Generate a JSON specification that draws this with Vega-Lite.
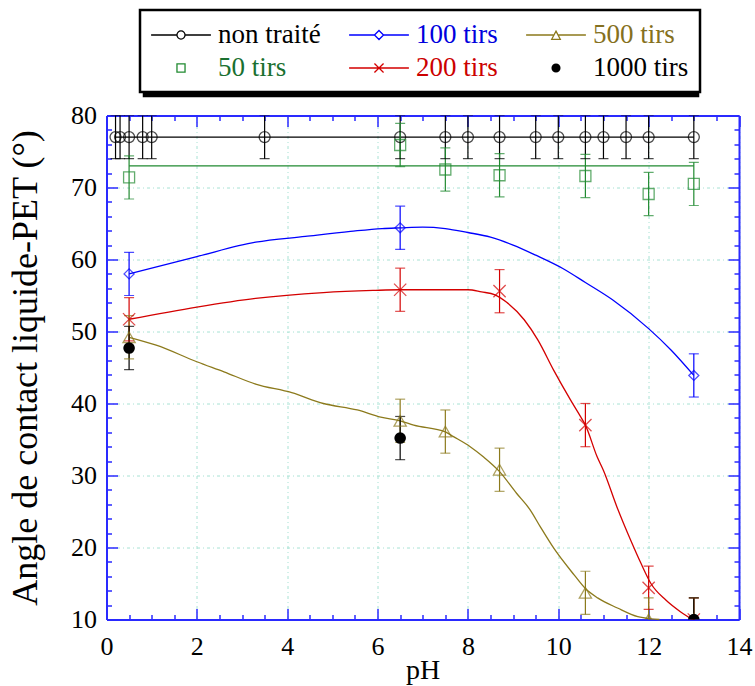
{
  "$schema": "https://vega.github.io/schema/vega-lite/v6.json",
  "width": 632.5,
  "height": 504,
  "autosize": {"type": "none"},
  "padding": {"left": 106.5, "top": 115.5, "right": 16, "bottom": 66.5},
  "background": "white",
  "config": {"view": {"stroke": null}, "legend": {"labelFont": "Liberation Serif", "labelFontSize": 27}},
  "datasets": {
    "pts": [
      {"series": "non traité", "pH": 0.2, "angle": 77, "lo": 74, "hi": 80},
      {"series": "non traité", "pH": 0.3, "angle": 77, "lo": 74, "hi": 80},
      {"series": "non traité", "pH": 0.5, "angle": 77, "lo": 74, "hi": 80},
      {"series": "non traité", "pH": 0.8, "angle": 77, "lo": 74, "hi": 80},
      {"series": "non traité", "pH": 1.0, "angle": 77, "lo": 74, "hi": 80},
      {"series": "non traité", "pH": 3.5, "angle": 77, "lo": 74, "hi": 80},
      {"series": "non traité", "pH": 6.5, "angle": 77, "lo": 74, "hi": 80},
      {"series": "non traité", "pH": 7.5, "angle": 77, "lo": 74, "hi": 80},
      {"series": "non traité", "pH": 8.0, "angle": 77, "lo": 74, "hi": 80},
      {"series": "non traité", "pH": 8.7, "angle": 77, "lo": 74, "hi": 80},
      {"series": "non traité", "pH": 9.5, "angle": 77, "lo": 74, "hi": 80},
      {"series": "non traité", "pH": 10.0, "angle": 77, "lo": 74, "hi": 80},
      {"series": "non traité", "pH": 10.6, "angle": 77, "lo": 74, "hi": 80},
      {"series": "non traité", "pH": 11.0, "angle": 77, "lo": 74, "hi": 80},
      {"series": "non traité", "pH": 11.5, "angle": 77, "lo": 74, "hi": 80},
      {"series": "non traité", "pH": 12.0, "angle": 77, "lo": 74, "hi": 80},
      {"series": "non traité", "pH": 13.0, "angle": 77, "lo": 74, "hi": 80},
      {"series": "50 tirs", "pH": 0.5, "angle": 71.4, "lo": 68.4, "hi": 74.4},
      {"series": "50 tirs", "pH": 6.5, "angle": 75.9, "lo": 72.9, "hi": 78.9},
      {"series": "50 tirs", "pH": 7.5, "angle": 72.5, "lo": 69.5, "hi": 75.5},
      {"series": "50 tirs", "pH": 8.7, "angle": 71.7, "lo": 68.7, "hi": 74.7},
      {"series": "50 tirs", "pH": 10.6, "angle": 71.6, "lo": 68.6, "hi": 74.6},
      {"series": "50 tirs", "pH": 12.0, "angle": 69.1, "lo": 66.1, "hi": 72.1},
      {"series": "50 tirs", "pH": 13.0, "angle": 70.5, "lo": 67.5, "hi": 73.5},
      {"series": "100 tirs", "pH": 0.5, "angle": 58.0, "lo": 55.0, "hi": 61.0},
      {"series": "100 tirs", "pH": 6.5, "angle": 64.4, "lo": 61.4, "hi": 67.4},
      {"series": "100 tirs", "pH": 13.0, "angle": 43.9, "lo": 40.9, "hi": 46.9},
      {"series": "200 tirs", "pH": 0.5, "angle": 51.7, "lo": 48.7, "hi": 54.7},
      {"series": "200 tirs", "pH": 6.5, "angle": 55.8, "lo": 52.8, "hi": 58.8},
      {"series": "200 tirs", "pH": 8.7, "angle": 55.6, "lo": 52.6, "hi": 58.6},
      {"series": "200 tirs", "pH": 10.6, "angle": 37.0, "lo": 34.0, "hi": 40.0},
      {"series": "200 tirs", "pH": 12.0, "angle": 14.4, "lo": 11.4, "hi": 17.4},
      {"series": "200 tirs", "pH": 13.0, "angle": 10.0, "lo": 7.0, "hi": 13.0},
      {"series": "500 tirs", "pH": 0.5, "angle": 49.2, "lo": 46.2, "hi": 52.2},
      {"series": "500 tirs", "pH": 6.5, "angle": 37.6, "lo": 34.6, "hi": 40.6},
      {"series": "500 tirs", "pH": 7.5, "angle": 36.1, "lo": 33.1, "hi": 39.1},
      {"series": "500 tirs", "pH": 8.7, "angle": 30.8, "lo": 27.8, "hi": 33.8},
      {"series": "500 tirs", "pH": 10.6, "angle": 13.7, "lo": 10.7, "hi": 16.7},
      {"series": "500 tirs", "pH": 12.0, "angle": 10.0, "lo": 7.0, "hi": 13.0},
      {"series": "500 tirs", "pH": 13.0, "angle": 10.0, "lo": 7.0, "hi": 13.0},
      {"series": "1000 tirs", "pH": 0.5, "angle": 47.7, "lo": 44.7, "hi": 50.7},
      {"series": "1000 tirs", "pH": 6.5, "angle": 35.2, "lo": 32.2, "hi": 38.2},
      {"series": "1000 tirs", "pH": 13.0, "angle": 10.0, "lo": 7.0, "hi": 13.0}
    ],
    "curves": [
      {"series": "non traité", "pH": 0.2, "angle": 77},
      {"series": "non traité", "pH": 13, "angle": 77},
      {"series": "50 tirs", "pH": 0.5, "angle": 73},
      {"series": "50 tirs", "pH": 13, "angle": 73},
      {"series": "100 tirs", "pH": 0.5, "angle": 58.0},
      {"series": "100 tirs", "pH": 2.0, "angle": 60.4},
      {"series": "100 tirs", "pH": 3.3, "angle": 62.4},
      {"series": "100 tirs", "pH": 4.4, "angle": 63.2},
      {"series": "100 tirs", "pH": 5.4, "angle": 63.9},
      {"series": "100 tirs", "pH": 6.1, "angle": 64.3},
      {"series": "100 tirs", "pH": 6.5, "angle": 64.4},
      {"series": "100 tirs", "pH": 7.0, "angle": 64.5},
      {"series": "100 tirs", "pH": 7.5, "angle": 64.3},
      {"series": "100 tirs", "pH": 8.0, "angle": 63.75},
      {"series": "100 tirs", "pH": 8.5, "angle": 63.1},
      {"series": "100 tirs", "pH": 9.0, "angle": 62.0},
      {"series": "100 tirs", "pH": 9.5, "angle": 60.6},
      {"series": "100 tirs", "pH": 10.1, "angle": 58.75},
      {"series": "100 tirs", "pH": 10.6, "angle": 56.8},
      {"series": "100 tirs", "pH": 11.2, "angle": 54.4},
      {"series": "100 tirs", "pH": 12.0, "angle": 50.4},
      {"series": "100 tirs", "pH": 12.5, "angle": 47.4},
      {"series": "100 tirs", "pH": 13.0, "angle": 43.9},
      {"series": "200 tirs", "pH": 0.5, "angle": 51.7},
      {"series": "200 tirs", "pH": 2.0, "angle": 53.4},
      {"series": "200 tirs", "pH": 3.3, "angle": 54.6},
      {"series": "200 tirs", "pH": 4.8, "angle": 55.4},
      {"series": "200 tirs", "pH": 5.9, "angle": 55.7},
      {"series": "200 tirs", "pH": 6.5, "angle": 55.8},
      {"series": "200 tirs", "pH": 8.0, "angle": 55.8},
      {"series": "200 tirs", "pH": 8.3, "angle": 55.5},
      {"series": "200 tirs", "pH": 8.6, "angle": 55.1},
      {"series": "200 tirs", "pH": 8.85, "angle": 54.1},
      {"series": "200 tirs", "pH": 9.25, "angle": 51.6},
      {"series": "200 tirs", "pH": 9.55, "angle": 48.8},
      {"series": "200 tirs", "pH": 9.9, "angle": 44.6},
      {"series": "200 tirs", "pH": 10.27, "angle": 40.5},
      {"series": "200 tirs", "pH": 10.5, "angle": 38.1},
      {"series": "200 tirs", "pH": 10.6, "angle": 37.0},
      {"series": "200 tirs", "pH": 10.86, "angle": 32.6},
      {"series": "200 tirs", "pH": 11.0, "angle": 30.7},
      {"series": "200 tirs", "pH": 11.3, "angle": 25.6},
      {"series": "200 tirs", "pH": 11.61, "angle": 20.9},
      {"series": "200 tirs", "pH": 11.83, "angle": 17.8},
      {"series": "200 tirs", "pH": 12.05, "angle": 15.0},
      {"series": "200 tirs", "pH": 12.38, "angle": 12.7},
      {"series": "200 tirs", "pH": 12.71, "angle": 11.05},
      {"series": "200 tirs", "pH": 12.97, "angle": 10.0},
      {"series": "500 tirs", "pH": 0.5, "angle": 49.2},
      {"series": "500 tirs", "pH": 1.1, "angle": 48.1},
      {"series": "500 tirs", "pH": 2.0, "angle": 45.8},
      {"series": "500 tirs", "pH": 2.6, "angle": 44.4},
      {"series": "500 tirs", "pH": 3.3, "angle": 42.7},
      {"series": "500 tirs", "pH": 4.1, "angle": 41.5},
      {"series": "500 tirs", "pH": 4.8, "angle": 40.0},
      {"series": "500 tirs", "pH": 5.55, "angle": 39.1},
      {"series": "500 tirs", "pH": 6.07, "angle": 38.1},
      {"series": "500 tirs", "pH": 6.5, "angle": 37.6},
      {"series": "500 tirs", "pH": 6.8, "angle": 37.0},
      {"series": "500 tirs", "pH": 7.5, "angle": 36.05},
      {"series": "500 tirs", "pH": 7.68, "angle": 35.4},
      {"series": "500 tirs", "pH": 8.05, "angle": 34.0},
      {"series": "500 tirs", "pH": 8.34, "angle": 32.6},
      {"series": "500 tirs", "pH": 8.69, "angle": 30.6},
      {"series": "500 tirs", "pH": 9.08, "angle": 27.5},
      {"series": "500 tirs", "pH": 9.38, "angle": 25.2},
      {"series": "500 tirs", "pH": 9.6, "angle": 22.9},
      {"series": "500 tirs", "pH": 9.9, "angle": 19.9},
      {"series": "500 tirs", "pH": 10.35, "angle": 16.2},
      {"series": "500 tirs", "pH": 10.6, "angle": 14.3},
      {"series": "500 tirs", "pH": 10.87, "angle": 13.0},
      {"series": "500 tirs", "pH": 11.31, "angle": 11.6},
      {"series": "500 tirs", "pH": 11.76, "angle": 10.4},
      {"series": "500 tirs", "pH": 12.05, "angle": 10.1},
      {"series": "500 tirs", "pH": 12.24, "angle": 10.0}
    ]
  },
  "layer": [
    {
      "data": {"name": "pts"},
      "mark": {"type": "point", "filled": false, "opacity": 0, "strokeWidth": 1.3},
      "encoding": {
        "x": {
          "field": "pH", "type": "quantitative",
          "scale": {"domain": [0, 14], "nice": false, "zero": false},
          "axis": null
        },
        "y": {
          "field": "angle", "type": "quantitative",
          "scale": {"domain": [10, 80], "nice": false, "zero": false},
          "axis": null
        },
        "shape": {
          "field": "series", "type": "nominal",
          "scale": {
            "domain": ["non traité", "100 tirs", "500 tirs", "50 tirs", "200 tirs", "1000 tirs"],
            "range": [
              "M-2.3,0L-0.31,0M0.31,0L2.3,0M0.31,0A0.31,0.31,0,1,1,-0.31,0A0.31,0.31,0,1,1,0.31,0",
              "M-2.3,0L-0.35,0M0.35,0L2.3,0M0,-0.35L0.35,0L0,0.35L-0.35,0Z",
              "M-2.3,0L-0.2,0M0.2,0L2.3,0M0,-0.3L0.33,0.33L-0.33,0.33Z",
              "M-0.31,-0.31L0.31,-0.31L0.31,0.31L-0.31,0.31Z",
              "M-2.3,0L2.3,0M-0.35,-0.35L0.35,0.35M-0.35,0.35L0.35,-0.35",
              "M0.3,0A0.3,0.3,0,1,1,-0.3,0A0.3,0.3,0,1,1,0.3,0M0.2,0A0.2,0.2,0,1,1,-0.2,0A0.2,0.2,0,1,1,0.2,0M0.1,0A0.1,0.1,0,1,1,-0.1,0A0.1,0.1,0,1,1,0.1,0"
            ]
          }
        },
        "color": {
          "field": "series", "type": "nominal",
          "scale": {
            "domain": ["non traité", "100 tirs", "500 tirs", "50 tirs", "200 tirs", "1000 tirs"],
            "range": ["#000000", "#0000ff", "#8c7a1c", "#208a30", "#d40000", "#000000"]
          },
          "legend": {
            "title": null, "orient": "none", "legendX": 33.5, "legendY": -105.5, "zindex": 2,
            "columns": 3, "direction": "horizontal",
            "symbolSize": 676, "symbolStrokeWidth": 1.3, "symbolOpacity": 1, "symbolOffset": 16,
            "labelFont": "Liberation Serif", "labelFontSize": 27, "labelOffset": 23, "labelLimit": 0,
            "columnPadding": 25, "rowPadding": 6, "padding": 11,
            "strokeColor": "black", "fillColor": "white",
            "encoding": {
              "legend": {"strokeWidth": {"value": 2.5}},
              "symbols": {
                "fill": {"condition": {"test": "datum.value === '1000 tirs'", "value": "#000000"}, "value": "transparent"},
                "opacity": {"value": 1}
              },
              "labels": {
                "font": {"value": "Liberation Serif"},
                "fontSize": {"value": 27},
                "fill": {
                  "condition": [
                    {"test": "datum.value === '100 tirs'", "value": "#0000dd"},
                    {"test": "datum.value === '500 tirs'", "value": "#857020"},
                    {"test": "datum.value === '50 tirs'", "value": "#1a7030"},
                    {"test": "datum.value === '200 tirs'", "value": "#cc0000"}
                  ],
                  "value": "#000000"
                }
              }
            }
          }
        }
      }
    },
    {
      "data": {"name": "curves"},
      "mark": {"type": "line", "strokeWidth": 1.3, "interpolate": "monotone"},
      "encoding": {
        "x": {
          "field": "pH", "type": "quantitative",
          "axis": {
            "orient": "bottom",
            "values": [0, 0.5, 1, 1.5, 2, 2.5, 3, 3.5, 4, 4.5, 5, 5.5, 6, 6.5, 7, 7.5, 8, 8.5, 9, 9.5, 10, 10.5, 11, 11.5, 12, 12.5, 13, 13.5, 14],
            "labelExpr": "datum.value % 2 === 0 ? '' + datum.value : ''",
            "labelFont": "Liberation Serif", "labelFontSize": 26, "labelColor": "black",
            "labelPadding": 25, "labelFlush": false, "labelOverlap": false, "labelBound": false,
            "tickSize": {"condition": {"test": "datum.value % 2 === 0", "value": -11}, "value": -5},
            "tickColor": "#2a2aff", "tickWidth": 1.5,
            "grid": true, "gridColor": "#a8e2d4", "gridDash": [3, 3, 1, 3], "gridWidth": 1,
            "gridOpacity": {"condition": {"test": "datum.value % 2 === 0", "value": 1}, "value": 0},
            "domainColor": "#2a2aff", "domainWidth": 2,
            "title": "pH", "titleFont": "Liberation Serif", "titleFontSize": 28, "titleFontWeight": "normal",
            "titleColor": "black", "titleX": 316, "titleY": 51, "titleBaseline": "middle", "titleAlign": "center"
          }
        },
        "y": {
          "field": "angle", "type": "quantitative",
          "axis": {
            "orient": "left",
            "values": [10, 12, 14, 16, 18, 20, 22, 24, 26, 28, 30, 32, 34, 36, 38, 40, 42, 44, 46, 48, 50, 52, 54, 56, 58, 60, 62, 64, 66, 68, 70, 72, 74, 76, 78, 80],
            "labelExpr": "datum.value % 10 === 0 ? '' + datum.value : ''",
            "labelFont": "Liberation Serif", "labelFontSize": 26, "labelColor": "black",
            "labelPadding": 21, "labelFlush": false, "labelOverlap": false, "labelBound": false,
            "tickSize": {"condition": {"test": "datum.value % 10 === 0", "value": -11}, "value": -5},
            "tickColor": "#2a2aff", "tickWidth": 1.5,
            "grid": true, "gridColor": "#a8e2d4", "gridDash": [3, 3, 1, 3], "gridWidth": 1,
            "gridOpacity": {"condition": {"test": "datum.value % 10 === 0", "value": 1}, "value": 0},
            "domainColor": "#2a2aff", "domainWidth": 2,
            "title": "Angle de contact liquide-PET (°)", "titleFont": "Liberation Serif", "titleFontSize": 36,
            "titleFontWeight": "normal", "titleColor": "black", "titleX": -81, "titleY": 252,
            "titleAngle": -90, "titleBaseline": "middle", "titleAlign": "center"
          }
        },
        "stroke": {
          "field": "series", "type": "nominal", "legend": null,
          "scale": {
            "domain": ["non traité", "50 tirs", "100 tirs", "200 tirs", "500 tirs", "1000 tirs"],
            "range": ["#000000", "#208a30", "#0000ff", "#d40000", "#8c7a1c", "#000000"]
          }
        }
      }
    },
    {
      "data": {"name": "pts"},
      "mark": {"type": "rule", "clip": true, "strokeWidth": 1.2},
      "encoding": {
        "x": {"field": "pH", "type": "quantitative", "axis": null},
        "y": {"field": "lo", "type": "quantitative", "axis": null},
        "y2": {"field": "hi"},
        "stroke": {"field": "series", "type": "nominal", "legend": null}
      }
    },
    {
      "data": {"name": "pts"},
      "mark": {"type": "tick", "orient": "horizontal", "clip": true, "size": 10, "thickness": 1.2},
      "encoding": {
        "x": {"field": "pH", "type": "quantitative", "axis": null},
        "y": {"field": "lo", "type": "quantitative", "axis": null},
        "fill": {
          "field": "series", "type": "nominal",
          "scale": {
            "domain": ["50 tirs", "200 tirs", "1000 tirs", "non traité", "100 tirs", "500 tirs"],
            "range": ["#208a30", "#d40000", "#000000", "#000000", "#0000ff", "#8c7a1c"]
          },
          "legend": {
            "title": null, "orient": "none", "legendX": 37.5, "legendY": -101.5, "zindex": 1,
            "columns": 3, "direction": "horizontal",
            "symbolSize": 676, "symbolType": "M-2.3,-0.35L2.3,-0.35L2.3,0.35L-2.3,0.35Z",
            "symbolOpacity": 0, "symbolOffset": 16,
            "labelFont": "Liberation Serif", "labelFontSize": 27, "labelOffset": 23, "labelLimit": 0, "labelOpacity": 0,
            "columnPadding": 25, "rowPadding": 6, "padding": 11,
            "strokeColor": "black", "fillColor": "black",
            "encoding": {
              "legend": {"strokeWidth": {"value": 2.5}},
              "symbols": {"opacity": {"value": 0}},
              "labels": {
                "font": {"value": "Liberation Serif"},
                "fontSize": {"value": 27},
                "opacity": {"value": 0}
              }
            }
          }
        }
      }
    },
    {
      "data": {"name": "pts"},
      "mark": {"type": "tick", "orient": "horizontal", "clip": true, "size": 10, "thickness": 1.2},
      "encoding": {
        "x": {"field": "pH", "type": "quantitative", "axis": null},
        "y": {"field": "hi", "type": "quantitative", "axis": null},
        "fill": {"field": "series", "type": "nominal"}
      }
    },
    {
      "data": {"name": "pts"},
      "transform": [{"filter": "datum.series === 'non traité'"}],
      "mark": {"type": "point", "filled": false, "shape": "circle", "strokeWidth": 1.3, "size": 121, "clip": true},
      "encoding": {
        "x": {
          "field": "pH", "type": "quantitative",
          "axis": {
            "orient": "top", "title": null, "labels": false,
            "values": [0, 0.5, 1, 1.5, 2, 2.5, 3, 3.5, 4, 4.5, 5, 5.5, 6, 6.5, 7, 7.5, 8, 8.5, 9, 9.5, 10, 10.5, 11, 11.5, 12, 12.5, 13, 13.5, 14],
            "tickSize": {"condition": {"test": "datum.value % 2 === 0", "value": -11}, "value": -5},
            "tickColor": "#2a2aff", "tickWidth": 1.5, "grid": false,
            "domainColor": "#2a2aff", "domainWidth": 2
          }
        },
        "y": {
          "field": "angle", "type": "quantitative",
          "axis": {
            "orient": "right", "title": null, "labels": false,
            "values": [10, 12, 14, 16, 18, 20, 22, 24, 26, 28, 30, 32, 34, 36, 38, 40, 42, 44, 46, 48, 50, 52, 54, 56, 58, 60, 62, 64, 66, 68, 70, 72, 74, 76, 78, 80],
            "tickSize": {"condition": {"test": "datum.value % 10 === 0", "value": -11}, "value": -5},
            "tickColor": "#2a2aff", "tickWidth": 1.5, "grid": false,
            "domainColor": "#2a2aff", "domainWidth": 2
          }
        },
        "stroke": {"field": "series", "type": "nominal", "legend": null}
      }
    },
    {
      "data": {"name": "pts"},
      "transform": [{"filter": "datum.series === '100 tirs'"}],
      "mark": {"type": "point", "filled": false, "shape": "diamond", "strokeWidth": 1.3, "size": 100, "clip": true},
      "encoding": {
        "x": {"field": "pH", "type": "quantitative", "axis": null},
        "y": {"field": "angle", "type": "quantitative", "axis": null},
        "stroke": {"field": "series", "type": "nominal", "legend": null}
      }
    },
    {
      "data": {"name": "pts"},
      "transform": [{"filter": "datum.series === '500 tirs'"}],
      "mark": {"type": "point", "filled": false, "shape": "triangle-up", "strokeWidth": 1.3, "size": 150, "clip": true},
      "encoding": {
        "x": {"field": "pH", "type": "quantitative", "axis": null},
        "y": {"field": "angle", "type": "quantitative", "axis": null},
        "stroke": {"field": "series", "type": "nominal", "legend": null}
      }
    },
    {
      "data": {"name": "pts"},
      "transform": [{"filter": "datum.series === '50 tirs'"}],
      "mark": {"type": "point", "filled": false, "shape": "square", "strokeWidth": 1.3, "size": 121, "clip": true},
      "encoding": {
        "x": {"field": "pH", "type": "quantitative", "axis": null},
        "y": {"field": "angle", "type": "quantitative", "axis": null},
        "stroke": {"field": "series", "type": "nominal", "legend": null}
      }
    },
    {
      "data": {"name": "pts"},
      "transform": [{"filter": "datum.series === '200 tirs'"}],
      "mark": {"type": "point", "filled": false, "shape": "M-1,-1L1,1M-1,1L1,-1", "strokeWidth": 1.3, "size": 150, "clip": true},
      "encoding": {
        "x": {"field": "pH", "type": "quantitative", "axis": null},
        "y": {"field": "angle", "type": "quantitative", "axis": null},
        "stroke": {"field": "series", "type": "nominal", "legend": null}
      }
    },
    {
      "data": {"name": "pts"},
      "transform": [{"filter": "datum.series === '1000 tirs'"}],
      "mark": {"type": "point", "filled": true, "shape": "circle", "size": 135, "color": "#000000", "opacity": 1, "clip": true},
      "encoding": {
        "x": {"field": "pH", "type": "quantitative", "axis": null},
        "y": {"field": "angle", "type": "quantitative", "axis": null}
      }
    }
  ],
  "resolve": {"axis": {"x": "independent", "y": "independent"}}
}
